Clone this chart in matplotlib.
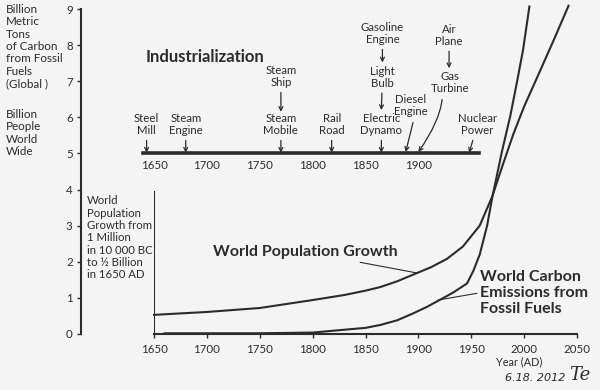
import matplotlib
matplotlib.use("Agg")
import matplotlib.pyplot as plt

# --- data ---
pop_years = [1650, 1700, 1750, 1800, 1830, 1850, 1864, 1880, 1898, 1912, 1927, 1942, 1958,
             1970, 1980, 1990, 2000, 2013, 2028, 2042]
pop_values = [0.53, 0.61, 0.72, 0.94, 1.08, 1.2, 1.3, 1.46, 1.68, 1.85, 2.08, 2.42, 3.0,
              3.82, 4.7, 5.55, 6.3, 7.15, 8.14, 9.09]

carbon_years = [1660, 1750, 1800, 1850, 1864, 1880, 1895, 1908, 1920, 1933, 1946, 1952,
                1958, 1965, 1970, 1979, 1987, 1993, 1999, 2005]
carbon_values = [0.02, 0.02, 0.04, 0.17, 0.25, 0.38, 0.57, 0.75, 0.94, 1.15, 1.4, 1.75,
                 2.2, 3.0, 3.8, 5.05, 6.05, 6.94, 7.87, 9.07]

x_ticks = [1650, 1700, 1750, 1800, 1850, 1900, 1950, 2000, 2050]
y_ticks = [0, 1, 2, 3, 4, 5, 6, 7, 8, 9]
timeline_ticks = [1650, 1700, 1750, 1800, 1850, 1900]

# events pointing at the timeline
event_labels = ["Steel\nMill", "Steam\nEngine", "Steam\nMobile", "Rail\nRoad",
                "Electric\nDynamo", "Nuclear\nPower"]
event_years = [1643, 1680, 1770, 1818, 1865, 1948]
# earlier inventions stacked above the ones they led to
stack_labels = ["Steam\nShip", "Light\nBulb", "Gasoline\nEngine", "Air\nPlane"]
stack_years = [1770, 1866, 1866, 1929]

INK = "#2b2b2b"
FONT = ["Lato", "DejaVu Sans"]
plt.rcParams["font.family"] = FONT
plt.rcParams["text.color"] = INK

fig = plt.figure(figsize=(6, 3.9), dpi=100, facecolor="#f4f4f4")
W, H = 600.0, 390.0
ax = fig.add_axes([154 / W, 1 - 334 / H, 423 / W, 325 / H])
ax.set_xlim(1650, 2050)
ax.set_ylim(0, 9)
ax.patch.set_visible(False)

for side in ("top", "right"):
    ax.spines[side].set_visible(False)
ax.spines["left"].set_position(("outward", 73 * 0.72))
ax.spines["left"].set_bounds(0, 9)
ax.spines["bottom"].set_bounds(1650, 2050)
for side in ("left", "bottom"):
    ax.spines[side].set_color(INK)
    ax.spines[side].set_linewidth(1.5)
ax.set_xticks(x_ticks)
ax.set_yticks(y_ticks)
ax.tick_params(colors=INK, labelsize=8.3, length=3, width=1)
ax.tick_params(axis="x", pad=4)
ax.tick_params(axis="y", pad=3)

# inner axis line at 1650
ax.vlines(1650, 0, 3.95, color=INK, lw=1.5)

ax.plot(pop_years, pop_values, color=INK, lw=1.5, clip_on=False)
ax.plot(carbon_years, carbon_values, color=INK, lw=1.5, clip_on=False)

# timeline of industrialization, drawn as its own axis at y = 5
tl = ax.inset_axes([1650, 5, 400, 4], transform=ax.transData)
tl.set_xlim(1650, 2050)
tl.set_ylim(5, 9)
tl.patch.set_visible(False)
for side in ("top", "right", "left"):
    tl.spines[side].set_visible(False)
tl.spines["bottom"].set_bounds(1640, 1957)
tl.spines["bottom"].set_linewidth(2.6)
tl.spines["bottom"].set_color(INK)
tl.set_yticks([])
tl.set_xticks(timeline_ticks)
tl.tick_params(axis="x", colors=INK, labelsize=8.3, length=0, pad=5)

arrow = dict(arrowstyle="->", color=INK, lw=0.9, shrinkA=1, shrinkB=0,
             mutation_scale=7)
small = dict(fontsize=8.2, ha="center", va="center", linespacing=1.15,
             annotation_clip=False)

for label, year in zip(event_labels, event_years):
    text_x = year + 8 if label.startswith("Nuclear") else year
    ax.annotate(label, xy=(year, 5.02), xytext=(text_x, 5.8), arrowprops=arrow, **small)

# arrows between stacked labels
for label, year in zip(stack_labels, stack_years):
    if label.startswith("Steam"):
        ax.annotate(label, xy=(year, 6.15), xytext=(year, 7.13), arrowprops=arrow, **small)
    elif label.startswith("Light"):
        ax.annotate(label, xy=(year - 1, 6.2), xytext=(year, 7.11), arrowprops=arrow, **small)
    elif label.startswith("Gasoline"):
        ax.annotate(label, xy=(year, 7.52), xytext=(year, 8.32), arrowprops=arrow, **small)
    else:
        ax.annotate(label, xy=(year, 7.36), xytext=(year, 8.27), arrowprops=arrow, **small)

ax.annotate("Diesel\nEngine", xy=(1888, 5.04), xytext=(1893, 6.33),
            arrowprops=dict(arrow, shrinkA=2, relpos=(0.6, 0)), **small)
ax.annotate("Gas\nTurbine", xy=(1900, 5.04), xytext=(1930, 6.97),
            arrowprops=dict(arrow, shrinkA=2, relpos=(0.3, 0),
                            connectionstyle="angle3,angleA=90,angleB=55"),
            **small)

ax.text(1642.4, 7.67, "Industrialization", fontsize=12, fontweight="bold",
        ha="left", va="center")

# curve labels with leader lines
ax.annotate("World Population Growth", xy=(1898.7, 1.69), xytext=(1793, 2.27),
            fontsize=11.5, fontweight="bold", ha="center", va="center",
            arrowprops=dict(arrowstyle="-", color=INK, lw=0.8, shrinkA=2, shrinkB=0))
ax.annotate("World Carbon\nEmissions from\nFossil Fuels", xy=(1918.6, 0.94), xytext=(1958, 1.14),
            fontsize=11.5, fontweight="bold", ha="left", va="center", linespacing=1.2,
            arrowprops=dict(arrowstyle="-", color=INK, lw=0.8, shrinkA=0, shrinkB=0,
                            relpos=(0, 0.5)))

ax.text(1586.6, 3.84, "World\nPopulation\nGrowth from\n1 Million\nin 10 000 BC\nto ½ Billion\nin 1650 AD",
        fontsize=8.2, ha="left", va="top", linespacing=1.15)

fig.text(6 / W, 1 - 4 / H, "Billion\nMetric\nTons\nof Carbon\nfrom Fossil\nFuels\n(Global )",
         fontsize=8.4, ha="left", va="top", linespacing=1.15)
fig.text(6 / W, 1 - 109 / H, "Billion\nPeople\nWorld\nWide",
         fontsize=8.4, ha="left", va="top", linespacing=1.15)

fig.text(519 / W, 1 - 362 / H, "Year (AD)", fontsize=7.8, ha="center", va="center")
fig.text(535 / W, 1 - 378 / H, "6.18. 2012", fontsize=8, style="italic",
         ha="center", va="center", family=["DejaVu Sans"], fontweight="light")
fig.text(580 / W, 1 - 375 / H, "Te", fontsize=13, style="italic",
         ha="center", va="center", family=["DejaVu Serif"])

fig.savefig("out.png", dpi=100, facecolor=fig.get_facecolor())
